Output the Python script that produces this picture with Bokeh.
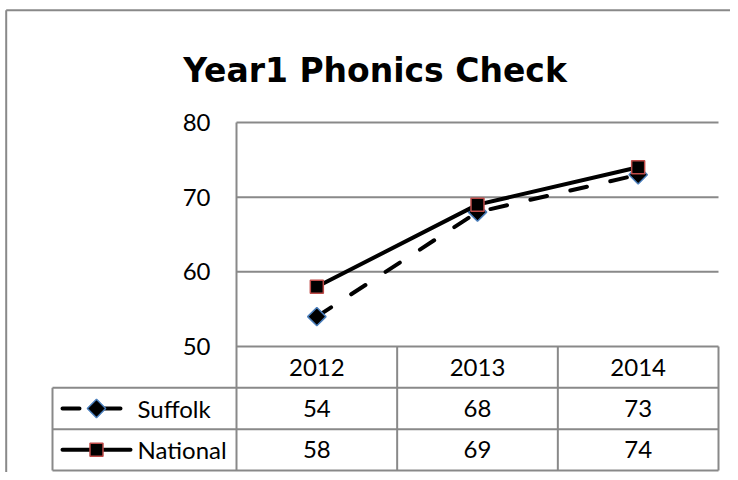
from bokeh.plotting import figure
from bokeh.models import Range1d, ColumnDataSource
from bokeh.core.properties import value
from bokeh.embed import file_html
from bokeh.resources import INLINE
import math

# ---- data ----
title_text = "Year1 Phonics Check"
years = ["2012", "2013", "2014"]
series_names = ["Suffolk", "National"]
suffolk = [54, 68, 73]
national = [58, 69, 74]
y_ticks = [50, 60, 70, 80]

# ---- layout (pixel geometry of the reference) ----
W, H = 730, 472
PAGE_L, PAGE_T = 0, 0
PLOT_L, PLOT_R = 236, 718
PLOT_T, PLOT_B = 122, 346
ROW_H = 41.33
TABLE_L = 52
ymin, ymax = y_ticks[0], y_ticks[-1]
ncat = len(years)
CW = (PLOT_R - PLOT_L) / ncat
PPU = (PLOT_B - PLOT_T) / (ymax - ymin)


def dx(px):
    return (px - PLOT_L) / CW


def dy(py):
    return ymin + (PLOT_B - py) / PPU


GRAY = "#898989"
FONT = value("Lato")
TSIZE = "24px"

p = figure(width=W, height=H, output_backend="svg", toolbar_location=None,
           x_range=Range1d(dx(PAGE_L), dx(PAGE_L + W)),
           y_range=Range1d(dy(PAGE_T + H), dy(PAGE_T)),
           x_axis_type=None, y_axis_type=None, min_border=0)
p.grid.visible = False
p.outline_line_color = None
p.background_fill_color = "white"
p.border_fill_color = "white"

# outer chart border (top and left visible)
p.segment(x0=[dx(5.7), dx(5.7)], y0=[dy(9.7), dy(9.7)],
          x1=[dx(PAGE_L + W), dx(5.7)], y1=[dy(9.7), dy(PAGE_T + H)],
          line_color=GRAY, line_width=2)

# horizontal gridlines (above the minimum)
grid_vals = [t for t in y_ticks if t > ymin]
p.segment(x0=[0] * len(grid_vals), y0=grid_vals, x1=[ncat] * len(grid_vals), y1=grid_vals,
          line_color=GRAY, line_width=2)

# data table geometry
row_tops = [PLOT_B + i * ROW_H for i in range(4)]
table_bottom = dy(row_tops[-1])
p.segment(x0=[0], y0=[ymin], x1=[ncat], y1=[ymin], line_color=GRAY, line_width=2)
p.segment(x0=[dx(TABLE_L)] * 3, y0=[dy(r) for r in row_tops[1:]],
          x1=[ncat] * 3, y1=[dy(r) for r in row_tops[1:]], line_color=GRAY, line_width=2)
p.segment(x0=[0], y0=[ymax], x1=[0], y1=[table_bottom], line_color=GRAY, line_width=2)
p.segment(x0=list(range(1, ncat + 1)), y0=[ymin] * ncat,
          x1=list(range(1, ncat + 1)), y1=[table_bottom] * ncat, line_color=GRAY, line_width=2)
p.segment(x0=[dx(TABLE_L)], y0=[dy(row_tops[1])], x1=[dx(TABLE_L)], y1=[table_bottom],
          line_color=GRAY, line_width=2)

# y tick labels
p.text(x=[dx(210)] * len(y_ticks), y=y_ticks, text=[str(t) for t in y_ticks],
       text_align="right", text_baseline="middle", text_font=FONT,
       text_font_size=TSIZE, text_color="black")

# title
p.text(x=[dx(374.5)], y=[dy(69.5)], text=[title_text], text_align="center",
       text_baseline="alphabetic", text_font=value("DejaVu Sans"), text_font_style="bold",
       text_font_size="33px", text_color="black")

# table texts
xc = [i + 0.5 for i in range(ncat)]
hdr_y = dy(row_tops[0] + ROW_H / 2)
p.text(x=xc, y=[hdr_y] * ncat, text=years, text_align="center", text_baseline="middle",
       text_font=FONT, text_font_size=TSIZE, text_color="black")
for k, vals in enumerate([suffolk, national]):
    ry = dy(row_tops[k + 1] + ROW_H / 2)
    p.text(x=xc, y=[ry] * ncat, text=[str(v) for v in vals], text_align="center",
           text_baseline="middle", text_font=FONT, text_font_size=TSIZE, text_color="black")
    p.text(x=[dx(137)], y=[ry], text=[series_names[k]], text_align="left",
           text_baseline="middle", text_font=FONT, text_font_size=TSIZE, text_color="black")

# series lines
src_s = ColumnDataSource(dict(x=xc, y=suffolk))
src_n = ColumnDataSource(dict(x=xc, y=national))
p.line("x", "y", source=src_s, line_color="black", line_width=4, line_dash="17 24",
       line_cap="round", line_join="round")
p.scatter("x", "y", source=src_s, marker="square", angle=math.pi / 4, size=13,
          fill_color="black", line_color="#4a7ebb", line_width=1.5)
p.line("x", "y", source=src_n, line_color="black", line_width=4,
       line_cap="round", line_join="round")
p.scatter("x", "y", source=src_n, marker="square", size=13,
          fill_color="black", line_color="#be4b48", line_width=1.5)

# legend keys in the table
ry_s = dy(row_tops[1] + ROW_H / 2)
ry_n = dy(row_tops[2] + ROW_H / 2)
p.line(x=[dx(62), dx(120)], y=[ry_s, ry_s], line_color="black", line_width=4,
       line_dash="17 24", line_cap="round")
p.scatter(x=[dx(96)], y=[ry_s], marker="square", angle=math.pi / 4, size=13,
          fill_color="black", line_color="#4a7ebb", line_width=1.5)
p.line(x=[dx(62), dx(130)], y=[ry_n, ry_n], line_color="black", line_width=4, line_cap="round")
p.scatter(x=[dx(96)], y=[ry_n], marker="square", size=13,
          fill_color="black", line_color="#be4b48", line_width=1.5)

open("out.html", "w").write(file_html(p, INLINE))
